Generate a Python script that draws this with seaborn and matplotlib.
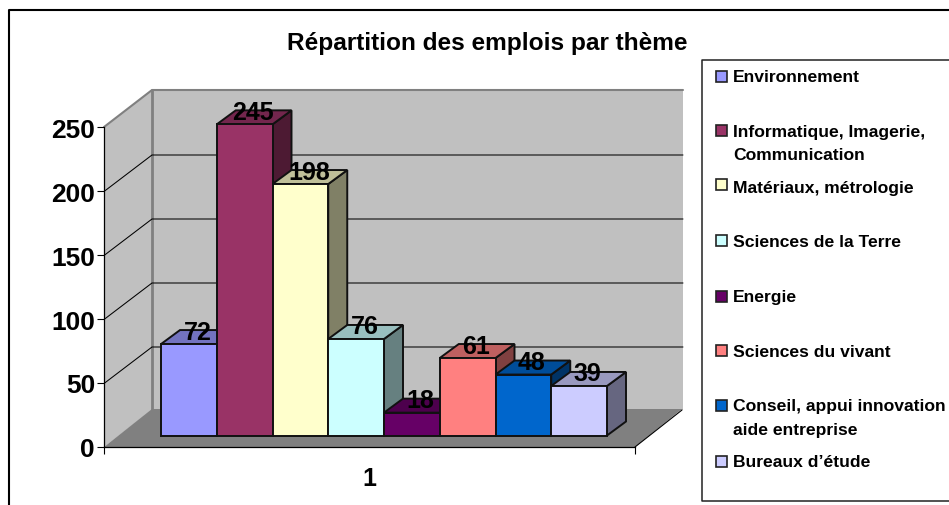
import pandas as pd
import seaborn as sns
import matplotlib.pyplot as plt
from matplotlib.patches import Polygon, Rectangle

# Values
themes = ["Environnement", "Informatique, Imagerie,\nCommunication", "Matériaux, métrologie",
          "Sciences de la Terre", "Energie", "Sciences du vivant",
          "Conseil, appui innovation\naide entreprise", "Bureaux d’étude"]
emplois = [72, 245, 198, 76, 18, 61, 48, 39]
colors = ["#9999FF", "#993366", "#FFFFCC", "#CCFFFF", "#660066", "#FF8080", "#0066CC", "#CCCCFF"]
y_ticks = [0, 50, 100, 150, 200, 250]
category = "1"
title = "Répartition des emplois par thème"

W, H = 949, 506
FONT = "Liberation Sans"

sns.set_theme(style="white")
plt.rcParams['font.family'] = [FONT, 'DejaVu Sans']


def shade(c, f):
    r, g, b = [int(c[i:i + 2], 16) for i in (1, 3, 5)]
    return (r / 255 * f, g / 255 * f, b / 255 * f)


def place(fig, left, top, right, bottom):
    return fig.add_axes([left / W, 1 - bottom / H, (right - left) / W, (bottom - top) / H])


df = pd.DataFrame({"theme": themes, "emplois": emplois})
fig = plt.figure(figsize=(W / 100, H / 100), dpi=100)

# Background axes in pixels: frame, walls, floor, title, legend
bg = fig.add_axes([0, 0, 1, 1], zorder=0)
bg.set_xlim(0, W)
bg.set_ylim(H, 0)
bg.axis("off")

bg.plot([9.5, 9.5, W], [H, 10.5, 10.5], color="black", lw=1.5, solid_capstyle="butt")

# perspective walls
bg.add_patch(Polygon([(104, 128), (152, 91), (152, 411), (104, 448)], fc="#C0C0C0", ec="none"))
bg.add_patch(Rectangle((152, 91), 531, 320, fc="#C0C0C0", ec="none"))
bg.add_patch(Polygon([(104, 448), (152, 410), (682, 410), (635, 448)], fc="#808080", ec="none"))
bg.plot([104, 152, 683], [128, 91, 91], color="#808080", lw=1.5)
bg.plot([152, 152], [91, 411], color="#808080", lw=2)
bg.plot([635, 682], [448, 411], color="black", lw=0.8)

for v in y_ticks[1:-1]:
    y = 448.5 - v * 1.28
    bg.plot([104, 152, 683], [y, y - 36.5, y - 36.5], color="black", lw=0.75)

bg.text(487, 43, title, ha="center", va="center", fontsize=17.6, fontweight="bold", color="black")

# legend box, runs off the right side of the picture
bg.plot([W, 702.5, 702.5, W], [60.5, 60.5, 501.5, 501.5], color="#222222", lw=1.1, solid_capstyle="butt")
legend_marks = [77, 131, 185, 241, 297, 351, 406, 462]
legend_lines = [[82], [137, 160], [193], [247], [302], [357], [411, 435], [467]]
for label, color, my, ly in zip(themes, colors, legend_marks, legend_lines):
    bg.add_patch(Rectangle((716, my - 5.5), 11, 11, fc=color, ec="#222222", lw=1.2))
    for part, y in zip(label.split("\n"), ly):
        bg.text(733, y, part, ha="left", va="baseline", fontsize=12.6, fontweight="bold", color="black")

# Value axis on the front plane
val = place(fig, 104, 128, 635, 448)
val.set_zorder(1)
val.patch.set_alpha(0)
val.set_ylim(0, 250)
val.set_xlim(0, 1)
val.set_yticks(y_ticks)
val.set_xticks([0, 1])
val.set_xticklabels(["", ""])
val.set_xticks([0.5], [category], minor=True)
val.tick_params(axis="y", length=5, width=0.8, color="black", pad=1.5, left=True, labelsize=19, labelcolor="black")
val.tick_params(axis="x", which="major", length=5, width=0.8, color="black", bottom=True)
val.tick_params(axis="x", which="minor", length=0, pad=13.5, labelsize=18, labelcolor="black")
for lab in val.get_yticklabels() + val.get_xticklabels(minor=True):
    lab.set_fontweight("bold")
for side in ["top", "right"]:
    val.spines[side].set_visible(False)
for side in ["left", "bottom"]:
    val.spines[side].set_color("black")
    val.spines[side].set_linewidth(0.9)

# Bars: baseline sits forward of the axis floor edge
SCALE = 1.27
ax = place(fig, 161, 436.5 - 250 * SCALE, 607, 436.5)
ax.set_zorder(2)
ax.patch.set_alpha(0)
sns.barplot(data=df, x="theme", y="emplois", hue="theme", palette=colors, hue_order=themes,
            order=themes, dodge=False, width=1, saturation=1, legend=False, ax=ax)
ax.set_xlim(-0.5, 7.5)
ax.set_ylim(0, 250)
ax.axis("off")

dx = 19 / 55.75
dy = 14 / SCALE
edge = "#111111"
for i, (bar, color, value) in enumerate(zip(ax.patches, colors, emplois)):
    x, w, h = bar.get_x(), bar.get_width(), bar.get_height()
    bar.set_edgecolor(edge)
    bar.set_linewidth(1.4)
    bar.set_zorder(3 + i + 0.5)
    bar.set_clip_on(False)
    ax.add_patch(Polygon([(x + w, 0), (x + w + dx, dy), (x + w + dx, h + dy), (x + w, h)],
                         fc=shade(color, 0.5), ec=edge, lw=1.4, zorder=3 + i, clip_on=False))
    ax.add_patch(Polygon([(x, h), (x + dx, h + dy), (x + w + dx, h + dy), (x + w, h)],
                         fc=shade(color, 0.75), ec=edge, lw=1.4, zorder=3 + i, clip_on=False))
    ax.text(x + w / 2 + dx * 0.45, h + 12.5 / SCALE, str(value), ha="center", va="center",
            fontsize=18, fontweight="bold", color="black", zorder=50, clip_on=False)

fig.savefig("out.png", dpi=100)
